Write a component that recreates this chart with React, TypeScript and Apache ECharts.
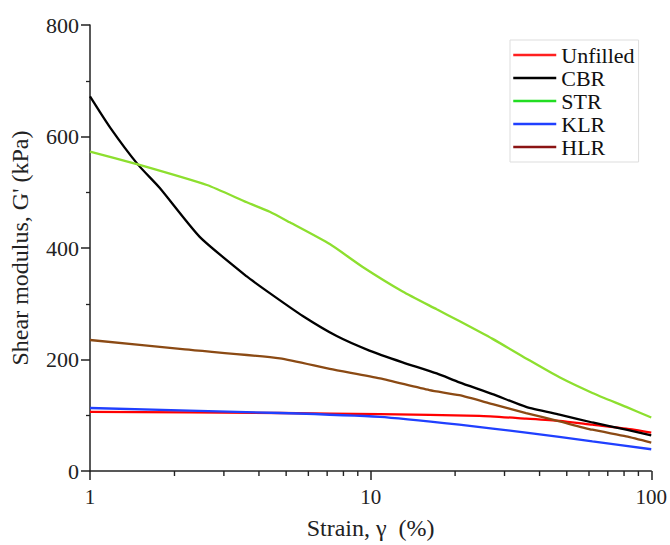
import React, { useEffect, useRef } from "react";
import * as echarts from "echarts";

const seriesNames = ["Unfilled", "CBR", "STR", "KLR", "HLR"];

const unfilledStrain = [1, 4.75, 10.8, 24.4, 35.8, 47.1, 61.7, 81.4, 100];
const unfilledModulus = [106, 104, 102, 99, 94, 90, 83, 76, 69];

const cbrStrain = [1, 1.18, 1.48, 1.77, 2.46, 3.62, 4.37, 5.73, 7.57, 9.9, 13, 17.2, 20.7, 27.2, 35.8, 47.1, 61.7, 81.4, 100];
const cbrModulus = [672, 616, 550, 508, 420, 349, 319, 278, 242, 216, 195, 175, 159, 138, 115, 101, 87, 74, 64];

const strStrain = [1, 1.48, 2.61, 3.62, 4.37, 5.15, 7.15, 9.37, 13, 17.2, 20.7, 27.2, 35.8, 47.1, 61.7, 81.4, 100];
const strModulus = [573, 550, 513, 482, 465, 446, 407, 366, 322, 290, 269, 237, 202, 168, 140, 115, 96];

const klrStrain = [1, 4.75, 10.8, 20.7, 35.8, 61.7, 100];
const klrModulus = [113, 104, 97, 83, 69, 53, 39];

const hlrStrain = [1, 2.18, 4.75, 7.15, 10.8, 16.2, 20.7, 27.2, 35.8, 47.1, 61.7, 81.4, 100];
const hlrModulus = [235, 218, 202, 183, 166, 145, 136, 120, 104, 89, 74, 62, 51];

const lineColors = ["#ff0000", "#000000", "#8ddf2f", "#2040ff", "#8b4a14"];
const legendColors = ["#ff2020", "#000000", "#22dd22", "#2040ff", "#8b1414"];

const minorStrainTicks = [2, 3, 4, 5, 6, 7, 8, 9, 20, 30, 40, 50, 60, 70, 80, 90];

const zip = (xs: number[], ys: number[]) => xs.map((x, i) => [x, ys[i]]);

const FONT = "Liberation Serif";

export default function App() {
  const ref = useRef<HTMLDivElement>(null);
  useEffect(() => {
    if (!ref.current) return;
    const chart = echarts.init(ref.current, null, { renderer: "svg" });
    const allData = [
      zip(unfilledStrain, unfilledModulus),
      zip(cbrStrain, cbrModulus),
      zip(strStrain, strModulus),
      zip(klrStrain, klrModulus),
      zip(hlrStrain, hlrModulus),
    ];
    const option: any = {
      animation: false,
      backgroundColor: "#ffffff",
      grid: { left: 90, right: 18, top: 25, bottom: 69, containLabel: false },
      legend: {
        orient: "vertical",
        left: 510,
        top: 40,
        itemWidth: 43,
        itemHeight: 14,
        itemGap: 1,
        padding: [4, 4, 4, 2],
        borderColor: "#dddddd",
        borderWidth: 1,
        textStyle: { fontFamily: FONT, fontSize: 22, lineHeight: 22, color: "#111" },
        data: seriesNames.map((n, i) => ({
          name: n,
          itemStyle: { opacity: 0, borderWidth: 0 },
          lineStyle: { color: legendColors[i], width: 2.5 },
        })),
      },
      xAxis: {
        type: "log",
        logBase: 10,
        min: 1,
        max: 100,
        name: "Strain, γ  (%)",
        nameLocation: "middle",
        nameGap: 45,
        nameTextStyle: { fontFamily: FONT, fontSize: 24, color: "#222" },
        axisLine: { show: true, onZero: false, lineStyle: { color: "#222", width: 1.5 } },
        axisTick: { show: true, inside: false, length: 9, lineStyle: { color: "#222", width: 1.5 } },
        axisLabel: { fontFamily: FONT, fontSize: 21, color: "#222", margin: 15 },
        splitLine: { show: false },
      },
      yAxis: {
        type: "value",
        min: 0,
        max: 800,
        interval: 200,
        name: "Shear modulus, G' (kPa)",
        nameLocation: "middle",
        nameGap: 58,
        nameTextStyle: { fontFamily: FONT, fontSize: 24, color: "#222" },
        axisLine: { show: true, lineStyle: { color: "#222", width: 1.5 } },
        axisTick: { show: true, inside: false, length: 9, lineStyle: { color: "#222", width: 1.5 } },
        minorTick: { show: true, splitNumber: 2, length: 4, lineStyle: { color: "#222", width: 1.3 } },
        axisLabel: { fontFamily: FONT, fontSize: 22, color: "#222", margin: 11 },
        splitLine: { show: false },
      },
      series: [
        ...seriesNames.map((n, i) => ({
          name: n,
          type: "line",
          data: allData[i],
          symbol: "none",
          smooth: 0.2,
          lineStyle: { color: lineColors[i], width: 2.3 },
          itemStyle: { color: lineColors[i] },
          z: 3 + i,
        })),
        {
          name: "minorTicks",
          type: "custom",
          coordinateSystem: "cartesian2d",
          clip: false,
          silent: true,
          z: 10,
          data: minorStrainTicks.map((v) => [v, 0]),
          renderItem: (params: any, api: any) => {
            const p = api.coord([api.value(0), api.value(1)]);
            return {
              type: "line",
              shape: { x1: p[0], y1: p[1], x2: p[0], y2: p[1] + 5 },
              style: { stroke: "#222", lineWidth: 1.4 },
            };
          },
        },
      ],
    };
    chart.setOption(option);
    return () => chart.dispose();
  }, []);
  return (
    <div
      ref={ref}
      style={{ position: "fixed", left: 0, top: 0, width: 670, height: 545, background: "#fff" }}
    />
  );
}
